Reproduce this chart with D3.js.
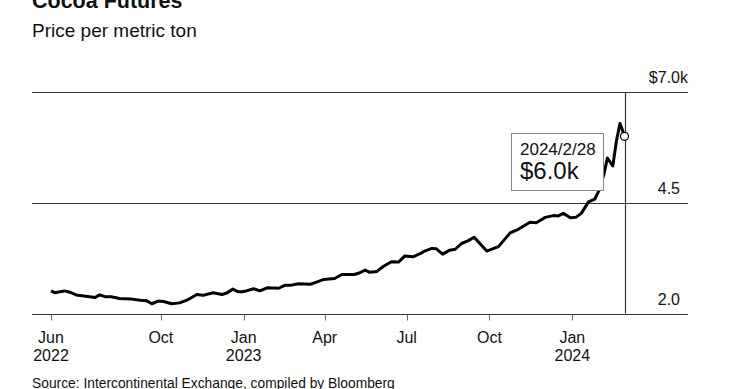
<!DOCTYPE html>
<html>
<head>
<meta charset="utf-8">
<script src="https://cdn.jsdelivr.net/npm/d3@7"></script>
<style>
body{margin:0;background:#fff;}
svg{display:block;font-family:"Liberation Sans",Arial,sans-serif;}
</style>
</head>
<body>
<div class="chart"></div>
<script>
var dates = ["2022-06-01","2022-06-05","2022-06-16","2022-06-22","2022-06-29","2022-07-14","2022-07-20","2022-07-25","2022-07-31",
    "2022-08-07","2022-08-16","2022-08-28","2022-09-08","2022-09-15","2022-09-21","2022-09-28","2022-10-04","2022-10-13",
    "2022-10-22","2022-10-30","2022-11-10","2022-11-17","2022-11-28","2022-12-08","2022-12-13","2022-12-20","2022-12-26",
    "2022-12-30","2023-01-04","2023-01-12","2023-01-19","2023-01-27","2023-02-09","2023-02-16","2023-02-23","2023-03-03",
    "2023-03-16","2023-03-23","2023-03-31","2023-04-12","2023-04-20","2023-05-04","2023-05-10","2023-05-16","2023-05-21",
    "2023-05-29","2023-06-05","2023-06-14","2023-06-22","2023-06-29","2023-07-08","2023-07-16","2023-07-21","2023-07-29",
    "2023-08-03","2023-08-10","2023-08-18","2023-08-24","2023-08-31","2023-09-07","2023-09-14","2023-09-28","2023-10-11",
    "2023-10-24","2023-11-02","2023-11-15","2023-11-22","2023-12-02","2023-12-11","2023-12-16","2023-12-22","2023-12-30",
    "2024-01-05","2024-01-11","2024-01-19","2024-01-26","2024-01-30","2024-02-05","2024-02-09","2024-02-15","2024-02-19",
    "2024-02-23","2024-02-25","2024-02-28"];
var prices = [2.51,2.47,2.51,2.48,2.42,2.38,2.36,2.42,2.38,
    2.38,2.34,2.33,2.30,2.29,2.22,2.28,2.27,2.22,
    2.24,2.30,2.43,2.41,2.47,2.43,2.46,2.55,2.49,
    2.49,2.51,2.56,2.51,2.58,2.57,2.64,2.64,2.67,
    2.66,2.71,2.77,2.79,2.88,2.88,2.92,2.98,2.93,
    2.95,3.06,3.17,3.16,3.30,3.28,3.35,3.41,3.47,
    3.46,3.34,3.43,3.45,3.58,3.64,3.72,3.41,3.51,
    3.82,3.90,4.06,4.05,4.17,4.21,4.20,4.26,4.16,
    4.17,4.26,4.52,4.58,4.75,5.13,5.51,5.33,5.89,
    6.29,6.18,6.00];
var yTicks = [2, 4.5, 7];
var yLabels = ["2.0", "4.5", "$7.0"];
var xTicks = ["2022-06-01","2022-10-01","2023-01-01","2023-04-01","2023-07-01","2023-10-01","2024-01-01"];
var xMonths = ["Jun","Oct","Jan","Apr","Jul","Oct","Jan"];
var xYears = ["2022","","2023","","","","2024"];
var callout = {date:"2024-02-28", label:"2024/2/28", value:"$6.0k"};

var parse = d3.timeParse("%Y-%m-%d");
var data = dates.map(function(d,i){ return {date:parse(d), value:prices[i]}; });

var svg = d3.select("div.chart").append("svg")
    .attr("width",740)
    .attr("height",389);

var x = d3.scaleTime()
    .domain([parse("2022-06-01"), parse("2024-02-28")])
    .range([51, 624.5]);
var y = d3.scaleLinear()
    .domain([2, 7])
    .range([313.5, 92]);

svg.append("text")
    .text("Cocoa Futures")
    .attr("x",32)
    .attr("y",8)
    .attr("font-weight","bold")
    .attr("font-size","21.5px")
    .attr("fill","#111");
svg.append("text")
    .text("Price per metric ton")
    .attr("x",32)
    .attr("y",37)
    .attr("font-size","19px")
    .attr("fill","#111");

svg.selectAll("line.grid").data(yTicks).enter().append("line")
    .attr("class","grid")
    .attr("x1",32)
    .attr("x2",688)
    .attr("y1",function(d){ return Math.round(y(d))+0.5; })
    .attr("y2",function(d){ return Math.round(y(d))+0.5; })
    .attr("stroke","#333")
    .attr("stroke-width",1.2);

svg.selectAll("text.ylab").data(yTicks).enter().append("text")
    .attr("class","ylab")
    .text(function(d,i){ return yLabels[i]; })
    .attr("x",680)
    .attr("y",function(d){ return y(d)-9; })
    .attr("text-anchor","end")
    .attr("font-size","16px")
    .attr("fill","#111");
svg.append("text")
    .text("k")
    .attr("x",680)
    .attr("y",y(7)-9)
    .attr("font-size","16px")
    .attr("fill","#111");

var xAxis = svg.append("g")
    .attr("transform","translate(0,"+(Math.round(y(2))+0.5)+")");
xAxis.selectAll("line").data(xTicks).enter().append("line")
    .attr("x1",function(d){ return Math.round(x(parse(d)))+0.5; })
    .attr("x2",function(d){ return Math.round(x(parse(d)))+0.5; })
    .attr("y1",0)
    .attr("y2",6)
    .attr("stroke","#666");
xAxis.selectAll("text.month").data(xTicks).enter().append("text")
    .attr("class","month")
    .text(function(d,i){ return xMonths[i]; })
    .attr("x",function(d){ return x(parse(d)); })
    .attr("y",28)
    .attr("text-anchor","middle")
    .attr("font-size","16px")
    .attr("fill","#111");
xAxis.selectAll("text.year").data(xTicks).enter().append("text")
    .attr("class","year")
    .text(function(d,i){ return xYears[i]; })
    .attr("x",function(d){ return x(parse(d)); })
    .attr("y",46.5)
    .attr("text-anchor","middle")
    .attr("font-size","16px")
    .attr("fill","#111");

var cx = x(parse(callout.date));
svg.append("line")
    .attr("x1",Math.round(cx)+0.5)
    .attr("x2",Math.round(cx)+0.5)
    .attr("y1",y(7))
    .attr("y2",y(2))
    .attr("stroke","#333")
    .attr("stroke-width",1.2);

var line = d3.line()
    .x(function(d){ return x(d.date); })
    .y(function(d){ return y(d.value); });
svg.append("path")
    .datum(data)
    .attr("d",line)
    .attr("fill","none")
    .attr("stroke","#000")
    .attr("stroke-width",3)
    .attr("stroke-linejoin","round");

svg.append("rect")
    .attr("x",511.5)
    .attr("y",133.5)
    .attr("width",92)
    .attr("height",57)
    .attr("fill","#fff")
    .attr("stroke","#888");
svg.append("text")
    .text(callout.label)
    .attr("x",520)
    .attr("y",155)
    .attr("font-size","17px")
    .attr("fill","#111");
svg.append("text")
    .text(callout.value)
    .attr("x",520)
    .attr("y",179)
    .attr("font-size","24px")
    .attr("fill","#111");

var last = data[data.length-1];
svg.append("circle")
    .attr("cx",x(last.date))
    .attr("cy",y(last.value))
    .attr("r",4)
    .attr("fill","#fff")
    .attr("stroke","#000")
    .attr("stroke-width",1.2);

svg.append("text")
    .text("Source: Intercontinental Exchange, compiled by Bloomberg")
    .attr("x",32)
    .attr("y",388)
    .attr("font-size","13.8px")
    .attr("fill","#111");
</script>
</body>
</html>
